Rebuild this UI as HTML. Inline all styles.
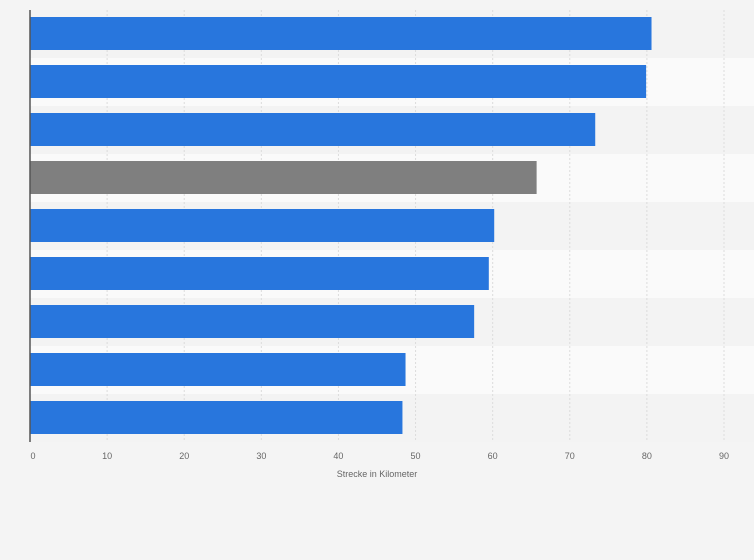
<!DOCTYPE html>
<html><head><meta charset="utf-8"><style>
html,body{margin:0;padding:0;background:#f4f4f4;}
svg{display:block;font-family:"Liberation Sans",sans-serif;}
</style></head><body>
<svg id="chart" width="754" height="560" xmlns="http://www.w3.org/2000/svg"></svg>
<script>
const categories = ["r1","r2","r3","r4","r5","r6","r7","r8","r9"];
const values = [80.6, 79.9, 73.3, 65.7, 60.2, 59.5, 57.6, 48.7, 48.3];
const highlight = [false,false,false,true,false,false,false,false,false];
const ticks = [0,10,20,30,40,50,60,70,80,90];
const svg = document.getElementById('chart');
const NS = "http://www.w3.org/2000/svg";
const x0 = 30, x1 = 724, y0 = 10, rowH = 48, xMax = 90;
const xs = v => x0 + v / xMax * (x1 - x0);
const yRow = i => y0 + i * rowH;
function mk(tag, attrs){const e=document.createElementNS(NS,tag);for(const k in attrs)e.setAttribute(k,attrs[k]);svg.appendChild(e);return e;}
categories.forEach((c,i)=>{
  const r = mk('rect',{x:x0,y:yRow(i),width:x1-x0+30,height:rowH,fill:i%2?'#fafafa':'#f3f3f3'});
  
  
});
const yEnd = yRow(categories.length);
ticks.forEach(t=>{
  if(t>0){
    const g = mk('line',{x1:xs(t),x2:xs(t),y1:y0,y2:yEnd,stroke:'#dcdcdc','stroke-dasharray':'2,2'});
    
    
  }
  const tx = mk('text',{x:xs(t)+(t===0?3:0),y:459,'text-anchor':'middle','font-size':9,fill:'#666'});
  tx.textContent = t;
  
  
});
values.forEach((v,i)=>{
  const b = mk('rect',{x:x0,y:yRow(i)+7,width:xs(v)-x0,height:33,fill:highlight[i]?'#7f7f7f':'#2876dd'});
  
  
});
const ax = mk('line',{x1:x0,x2:x0,y1:y0,y2:yEnd,stroke:'#555','stroke-width':1.5});


const tt = mk('text',{x:377,y:477,'text-anchor':'middle','font-size':9,fill:'#666'});
tt.textContent = 'Strecke in Kilometer';


</script>
</body></html>
